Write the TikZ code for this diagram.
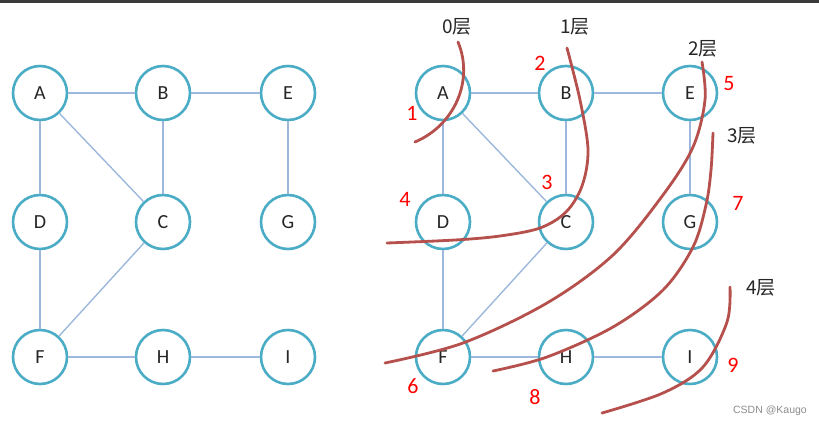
\documentclass[tikz,border=0pt]{standalone}
\usepackage{fontspec}
\setmainfont{Carlito}
\newfontfamily\cjk{Noto Sans CJK SC}
\newfontfamily\wmfont{Liberation Sans}
\definecolor{ringc}{HTML}{4BACC6}
\definecolor{edgec}{HTML}{9DB8DC}
\definecolor{cutc}{HTML}{B5504C}
\definecolor{barc}{HTML}{3A3A3A}
\begin{document}
\begin{tikzpicture}[x=1pt,y=-1pt,
  vtx/.style={circle,draw=ringc,line width=2.6pt,fill=white,minimum size=54pt,inner sep=0pt,font=\fontsize{20}{24}\selectfont,text=black!85},
  gedge/.style={draw=edgec,line width=1.4pt},
  cut/.style={draw=cutc,line width=2.8pt,line cap=round},
  lay/.style={font=\cjk\fontsize{19}{22}\selectfont,text=black!85,inner sep=0pt},
  ord/.style={font=\fontsize{22}{24}\selectfont,text=red,inner sep=0pt}]
\useasboundingbox (0,0) rectangle (819,426);
\fill[barc] (0,0) rectangle (819,2.5);
% left graph
\foreach \n/\x/\y in {A/40/93,B/163/93,E/288/93,D/40/222,C/163/222,G/288/222,F/40/357,H/163/357,I/288/357}
  \node[vtx] (L\n) at (\x,\y) {\n};
\foreach \a/\b in {A/B,B/E,A/D,A/C,B/C,E/G,D/F,C/F,F/H,H/I}
  \draw[gedge] (L\a) -- (L\b);
% right graph
\foreach \n/\x/\y in {A/443/93,B/566/93,E/690/93,D/443/222,C/566/222,G/690/222,F/443/357,H/566/357,I/690/357}
  \node[vtx] (R\n) at (\x,\y) {\n};
\foreach \a/\b in {A/B,B/E,A/D,A/C,B/C,E/G,D/F,C/F,F/H,H/I}
  \draw[gedge] (R\a) -- (R\b);
% layer labels
\node[lay] (l0) at (457,27) {0层};
\node[lay] (l1) at (575,27) {1层};
\node[lay] (l2) at (703,49) {2层};
\node[lay] (l3) at (742,136) {3层};
\node[lay] (l4) at (761,288) {4层};
% order numbers
\node[ord] (n1) at (412,113) {1};
\node[ord] (n2) at (540,63) {2};
\node[ord] (n3) at (547,182) {3};
\node[ord] (n4) at (405,199) {4};
\node[ord] (n5) at (729,84) {5};
\node[ord] (n6) at (413,386) {6};
\node[ord] (n7) at (738,203) {7};
\node[ord] (n8) at (535,397) {8};
\node[ord] (n9) at (733,365) {9};
% cut curves
\draw[cut] (458,42) .. controls (474,80) and (455,125) .. (415,142);
\draw[cut] plot[smooth,tension=0.55] coordinates {(567,48) (580,100) (588,150) (582,186) (566,212) (540,228) (500,236) (455,240) (387,243)};
\draw[cut] plot[smooth,tension=0.55] coordinates {(702,62) (705,100) (693,147) (663,195) (613,255) (547,303) (463,343) (385,363)};
\draw[cut] plot[smooth,tension=0.55] coordinates {(713,133) (711,170) (706,205) (693,247) (663,290) (613,327) (547,357) (493,371)};
\draw[cut] plot[smooth,tension=0.55] coordinates {(730,287) (727,322) (703,367) (663,393) (602,413)};
% watermark
\node[font=\wmfont\fontsize{10.5}{12}\selectfont,text=black!45,inner sep=0pt] (wm) at (770,411) {CSDN @Kaugo};
\end{tikzpicture}
\end{document}
